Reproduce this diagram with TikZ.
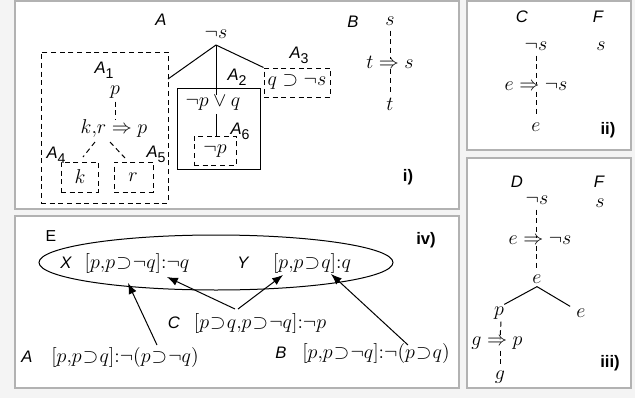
\documentclass[tikz,border=0pt]{standalone}
\usepackage{fontspec}
\setsansfont{Liberation Sans}
\usetikzlibrary{arrows.meta,shapes.geometric,fit,calc}
\newcommand{\sbx}[1]{\raisebox{-0.55ex}{\fontsize{8.5}{9}\selectfont\upshape #1}}
\newcommand{\sps}{\mathbin{\!\supset\!}}
\begin{document}
\begin{tikzpicture}[x=0.6pt,y=-0.6pt,
 lab/.style={font=\sffamily\itshape\fontsize{10}{11}\selectfont, inner sep=0pt},
 lup/.style={font=\sffamily\fontsize{9.5}{11}\selectfont, inner sep=0pt},
 num/.style={font=\sffamily\bfseries\fontsize{10}{11}\selectfont, inner sep=0pt},
 fm/.style={font=\fontsize{12}{14}\selectfont, inner sep=0pt},
 panel/.style={draw=gray!60, fill=white, line width=0.7pt},
 dbox/.style={draw, dash pattern=on 3pt off 2.2pt, line width=0.6pt, inner sep=0pt},
 sbox/.style={draw, line width=0.6pt, inner sep=0pt},
 dl/.style={dash pattern=on 3pt off 2.2pt, line width=0.6pt},
 sl/.style={line width=0.6pt},
 arr/.style={-{Latex[length=6.5pt,width=5pt]}, line width=0.6pt}]

\fill[gray!9] (0,0) rectangle (635,398);
\useasboundingbox (0,0) rectangle (635,398);

% panels
\draw[panel] (15,1) rectangle (459,209);
\draw[panel] (467,1) rectangle (631,150);
\draw[panel] (467,158) rectangle (631,388);
\draw[panel] (15,216) rectangle (459,388);

% ---------- panel i ----------
\node[lab] (lA) at (161,20) {A};
\node[fm] (ns) at (216,34) {$\neg s$};
\coordinate (apex) at (216,45);

\node[dbox, fit={(41,52)(168,203)}] (A1box) {};
\coordinate (a1hit) at (168,79);
\node[lab] (lA1) at (104,70) {A\sbx{1}};
\node[fm] (p1) at (115,92) {$p$};
\node[fm] (krp) at (114,128) {$k{,}r \Rightarrow p$};
\coordinate (kt) at (115,120);
\draw[dl] (p1.south) ++(0,3) -- (kt);
\coordinate (k1) at (95,142);
\coordinate (k2) at (83,157);
\coordinate (r1) at (110,142);
\coordinate (r2) at (125,158);
\draw[dl] (k1) -- (k2);
\draw[dl] (r1) -- (r2);
\node[lab] (lA4) at (56,155) {A\sbx{4}};
\node[lab] (lA5) at (156,154) {A\sbx{5}};
\node[dbox, fit={(61,162)(98,192)}] (kbox) {};
\node[fm] (k) at (80,177) {$k$};
\node[dbox, fit={(114,162)(153,192)}] (rbox) {};
\node[fm] (r) at (133,177) {$r$};

\node[sbox, fit={(177,88)(260,169)}] (A2box) {};
\node[lab] (lA2) at (237,77) {A\sbx{2}};
\node[fm] (npq) at (213,103) {$\neg p\vee q$};
\node[dbox, fit={(194,136)(236,165)}] (A6box) {};
\node[lab] (lA6) at (240,131) {A\sbx{6}};
\node[fm] (np) at (215,151) {$\neg p$};

\node[lab] (lA3) at (299,55) {A\sbx{3}};
\node[dbox, fit={(264,68)(330,97)}] (A3box) {};
\node[fm] (qs) at (297,82) {$q\supset\neg s$};

\draw[sl] (apex) -- (a1hit);
\draw[sl] (apex) -- (apex |- npq.north);
\draw[sl] (apex) -- (A3box.north west);
\draw[sl] ($(apex |- npq.south)+(0,3)$) -- (apex |- A6box.north);

\node[lab] (lB) at (353,22) {B};
\node[fm] (sB) at (390,21) {$s$};
\node[fm] (tis) at (390,62) {$t\Rightarrow s$};
\node[fm] (tB) at (390,104) {$t$};
\draw[dl] ($(sB.south)+(0,5)$) -- ($(tis.north)+(0,3)$);
\draw[dl] ($(tis.south)+(0,1)$) -- ($(tB.north)+(0,-5)$);
\node[num] (ni) at (408,177) {i)};

% ---------- panel ii ----------
\node[lab] (lC) at (522,17) {C};
\node[lab] (lF) at (598,17) {F};
\node[fm] (ns2) at (536,46) {$\neg s$};
\node[fm] (s2) at (601,46) {$s$};
\node[fm] (ens2) at (536,86) {$e\Rightarrow\neg s$};
\node[fm] (e2) at (536,127) {$e$};
\draw[dl] ($(ns2.south)+(0,5)$) -- ($(ens2.north)+(0,3)$);
\draw[dl] ($(ens2.south)+(0,1)$) -- ($(e2.north)+(0,-7)$);
\node[num] (nii) at (608,130) {ii)};

% ---------- panel iii ----------
\node[lab] (lD) at (517,182) {D};
\node[lab] (lF2) at (599,182) {F};
\node[fm] (ns3) at (537,200) {$\neg s$};
\node[fm] (s3) at (600,203) {$s$};
\node[fm] (ens3) at (540,240) {$e\Rightarrow\neg s$};
\node[fm] (e3) at (537,279) {$e$};
\node[fm] (p3) at (499,313) {$p$};
\node[fm] (e4) at (581,313) {$e$};
\node[fm] (gp) at (497,343) {$g\Rightarrow p$};
\node[fm] (g3) at (500,377) {$g$};
\draw[dl] ($(ns3.south -| 536,0)+(0,5)$) -- ($(ens3.north -| 536,0)+(0,3)$);
\draw[dl] ($(ens3.south -| 536,0)+(0,1)$) -- ($(e3.north -| 536,0)+(0,-6)$);
\draw[sl] ($(e3.south)+(0,3)$) -- ($(p3.north east)+(0,-2)$);
\draw[sl] ($(e3.south)+(0,3)$) -- ($(e4.north west)+(-6,-2)$);
\draw[dl] ($(p3.south)+(2,2)$) -- ($(gp.north -| 500,0)+(0,3)$);
\draw[dl] ($(gp.south -| 500,0)+(0,1)$) -- ($(g3.north)+(0,-6)$);
\node[num] (niii) at (610,363) {iii)};

% ---------- panel iv ----------
\node[lup] (lE) at (51,236) {E};
\node[draw, ellipse, line width=0.6pt, minimum width=212.4pt, minimum height=33pt, inner sep=0pt] (ell) at (216,262.5) {};
\node[lab] (lX) at (66,263) {X};
\node[fm] (fX) at (137,263) {$[p{,}p\sps\neg q]{:}\neg q$};
\node[lab] (lY) at (243,263) {Y};
\node[fm] (fY) at (312,263) {$[p{,}p\sps q]{:}q$};
\node[lab] (lC2) at (174,323) {C};
\node[fm] (fC) at (260,323) {$[p\sps q{,}p\sps\neg q]{:}\neg p$};
\node[lab] (lA7) at (27,357) {A};
\node[fm] (fA) at (125,357) {$[p{,}p\sps q]{:}\neg(p\sps\neg q)$};
\node[lab] (lB2) at (281,353) {B};
\node[fm] (fB) at (376,353) {$[p{,}p\sps\neg q]{:}\neg(p\sps q)$};
\node[num] (niv) at (426,240) {iv)};

\coordinate (aA) at (157,345);
\coordinate (tA) at (128,283);
\coordinate (aC1) at (235,309);
\coordinate (tC1) at (167,277);
\coordinate (aC2) at (238,309);
\coordinate (tC2) at (283,275);
\coordinate (aB) at (408,345);
\coordinate (tB2) at (331,274);
\draw[arr] (aA) -- (tA);
\draw[arr] (aC1) -- (tC1);
\draw[arr] (aC2) -- (tC2);
\draw[arr] (aB) -- (tB2);
\end{tikzpicture}
\end{document}
